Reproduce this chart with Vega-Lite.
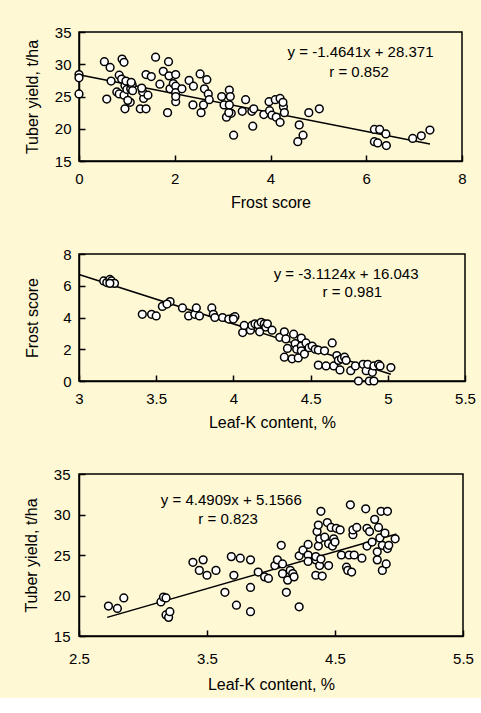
{
  "$schema": "https://vega.github.io/schema/vega-lite/v6.json",
  "background": "#FFF8D4",
  "padding": {"left": 22, "top": 24, "right": 10, "bottom": 5},
  "spacing": 35,
  "datasets": {
    "p1": [
      {"x":0,"y":28.4},{"x":0,"y":27.9},{"x":0,"y":25.4},{"x":0.53,"y":30.4},{"x":0.65,"y":29.5},{"x":0.67,"y":27.4},{"x":0.58,"y":24.6},{"x":0.79,"y":25.7},{"x":0.84,"y":28.3},{"x":0.9,"y":30.8},{"x":0.94,"y":30.3},{"x":0.89,"y":27.7},{"x":0.96,"y":26.7},{"x":0.98,"y":27.4},{"x":0.84,"y":25.4},{"x":0.94,"y":25.2},{"x":1.0,"y":26.1},{"x":1.08,"y":26.2},{"x":1.11,"y":26.8},{"x":1.09,"y":27.2},{"x":0.96,"y":23.1},{"x":1.07,"y":24.1},{"x":1.12,"y":25.9},{"x":1.02,"y":24.4},{"x":1.28,"y":23.1},{"x":1.4,"y":23.1},{"x":1.35,"y":24.7},{"x":1.33,"y":25.7},{"x":1.44,"y":25.2},{"x":1.4,"y":28.4},{"x":1.51,"y":28.1},{"x":1.31,"y":26.3},{"x":1.6,"y":31.1},{"x":1.69,"y":26.9},{"x":1.76,"y":28.9},{"x":1.87,"y":30.4},{"x":1.88,"y":28.2},{"x":1.85,"y":22.5},{"x":1.9,"y":26.2},{"x":1.97,"y":27.0},{"x":2.02,"y":28.4},{"x":2.02,"y":26.6},{"x":2.02,"y":25.6},{"x":2.02,"y":24.2},{"x":2.02,"y":25.0},{"x":2.15,"y":26.2},{"x":2.3,"y":27.5},{"x":2.39,"y":26.6},{"x":2.38,"y":23.7},{"x":2.53,"y":28.5},{"x":2.55,"y":22.5},{"x":2.6,"y":23.7},{"x":2.62,"y":26.2},{"x":2.67,"y":27.6},{"x":2.7,"y":25.4},{"x":2.72,"y":24.5},{"x":2.98,"y":25.0},{"x":3.03,"y":23.7},{"x":3.08,"y":21.8},{"x":3.14,"y":26.0},{"x":3.16,"y":25.0},{"x":3.18,"y":22.4},{"x":3.13,"y":22.5},{"x":3.23,"y":19.0},{"x":3.14,"y":23.7},{"x":3.48,"y":24.5},{"x":3.41,"y":22.7},{"x":3.61,"y":22.7},{"x":3.65,"y":23.1},{"x":3.63,"y":20.4},{"x":3.86,"y":22.2},{"x":3.97,"y":24.2},{"x":3.98,"y":22.8},{"x":4.03,"y":22.1},{"x":4.1,"y":24.5},{"x":4.2,"y":24.7},{"x":4.12,"y":21.8},{"x":4.2,"y":21.0},{"x":4.27,"y":23.4},{"x":4.29,"y":22.5},{"x":4.26,"y":24.1},{"x":4.6,"y":20.6},{"x":4.57,"y":18.0},{"x":4.68,"y":19.0},{"x":4.8,"y":22.5},{"x":5.02,"y":23.1},{"x":6.17,"y":19.9},{"x":6.28,"y":19.9},{"x":6.17,"y":18.0},{"x":6.24,"y":17.8},{"x":6.41,"y":19.2},{"x":6.42,"y":17.4},{"x":6.97,"y":18.5},{"x":7.15,"y":18.9},{"x":7.33,"y":19.8}
    ],
    "p2": [
      {"x":3.16,"y":6.3},{"x":3.18,"y":6.2},{"x":3.2,"y":6.4},{"x":3.21,"y":6.3},{"x":3.23,"y":6.15},{"x":3.2,"y":6.15},{"x":3.41,"y":4.2},{"x":3.47,"y":4.2},{"x":3.5,"y":4.1},{"x":3.54,"y":4.7},{"x":3.59,"y":5.0},{"x":3.57,"y":4.85},{"x":3.67,"y":4.6},{"x":3.71,"y":4.1},{"x":3.75,"y":4.2},{"x":3.76,"y":4.6},{"x":3.78,"y":4.1},{"x":3.86,"y":4.6},{"x":3.87,"y":4.2},{"x":3.88,"y":4.0},{"x":3.93,"y":4.0},{"x":3.97,"y":3.9},{"x":4.0,"y":4.0},{"x":4.01,"y":4.05},{"x":4.0,"y":3.9},{"x":4.06,"y":3.05},{"x":4.07,"y":3.5},{"x":4.11,"y":3.2},{"x":4.12,"y":3.5},{"x":4.14,"y":3.6},{"x":4.16,"y":3.55},{"x":4.17,"y":3.1},{"x":4.18,"y":3.7},{"x":4.2,"y":3.6},{"x":4.21,"y":3.4},{"x":4.22,"y":3.6},{"x":4.25,"y":3.2},{"x":4.3,"y":2.75},{"x":4.33,"y":3.1},{"x":4.34,"y":2.65},{"x":4.35,"y":2.05},{"x":4.33,"y":1.5},{"x":4.38,"y":1.4},{"x":4.42,"y":1.45},{"x":4.39,"y":2.95},{"x":4.4,"y":2.35},{"x":4.41,"y":2.0},{"x":4.44,"y":2.7},{"x":4.44,"y":2.2},{"x":4.44,"y":1.9},{"x":4.46,"y":1.7},{"x":4.47,"y":2.4},{"x":4.49,"y":2.1},{"x":4.51,"y":2.2},{"x":4.53,"y":2.0},{"x":4.55,"y":1.95},{"x":4.59,"y":1.9},{"x":4.55,"y":1.0},{"x":4.6,"y":0.95},{"x":4.64,"y":2.4},{"x":4.65,"y":0.95},{"x":4.67,"y":1.6},{"x":4.68,"y":1.3},{"x":4.7,"y":1.4},{"x":4.69,"y":0.7},{"x":4.72,"y":1.5},{"x":4.73,"y":1.3},{"x":4.76,"y":0.65},{"x":4.79,"y":0.95},{"x":4.81,"y":0.0},{"x":4.84,"y":1.05},{"x":4.86,"y":0.65},{"x":4.87,"y":1.05},{"x":4.88,"y":0.0},{"x":4.9,"y":0.55},{"x":4.91,"y":0.95},{"x":4.91,"y":0.0},{"x":4.94,"y":1.05},{"x":4.95,"y":0.95},{"x":5.02,"y":0.85}
    ],
    "p3": [
      {"x":2.73,"y":18.7},{"x":2.8,"y":18.4},{"x":2.85,"y":19.7},{"x":3.14,"y":19.2},{"x":3.16,"y":19.8},{"x":3.18,"y":19.7},{"x":3.18,"y":17.6},{"x":3.2,"y":17.3},{"x":3.21,"y":18.0},{"x":3.39,"y":24.1},{"x":3.44,"y":23.1},{"x":3.47,"y":24.4},{"x":3.5,"y":22.5},{"x":3.57,"y":23.1},{"x":3.64,"y":20.4},{"x":3.69,"y":24.8},{"x":3.71,"y":22.5},{"x":3.73,"y":18.8},{"x":3.76,"y":24.6},{"x":3.84,"y":24.4},{"x":3.84,"y":21.0},{"x":3.84,"y":18.0},{"x":3.9,"y":22.9},{"x":3.95,"y":22.3},{"x":3.98,"y":22.1},{"x":4.03,"y":23.7},{"x":4.05,"y":24.4},{"x":4.08,"y":26.2},{"x":4.09,"y":22.7},{"x":4.09,"y":23.9},{"x":4.12,"y":20.4},{"x":4.13,"y":21.9},{"x":4.15,"y":23.1},{"x":4.17,"y":22.7},{"x":4.18,"y":22.3},{"x":4.22,"y":18.6},{"x":4.22,"y":24.9},{"x":4.25,"y":25.6},{"x":4.29,"y":25.0},{"x":4.29,"y":24.2},{"x":4.29,"y":26.3},{"x":4.35,"y":24.4},{"x":4.35,"y":22.5},{"x":4.35,"y":24.8},{"x":4.36,"y":27.9},{"x":4.37,"y":28.7},{"x":4.37,"y":26.1},{"x":4.38,"y":27.0},{"x":4.38,"y":23.7},{"x":4.39,"y":24.5},{"x":4.39,"y":30.4},{"x":4.4,"y":22.4},{"x":4.42,"y":27.2},{"x":4.44,"y":29.0},{"x":4.45,"y":26.4},{"x":4.45,"y":23.7},{"x":4.47,"y":28.4},{"x":4.48,"y":26.1},{"x":4.49,"y":27.0},{"x":4.5,"y":26.6},{"x":4.51,"y":28.3},{"x":4.54,"y":28.1},{"x":4.55,"y":25.0},{"x":4.59,"y":23.5},{"x":4.6,"y":23.1},{"x":4.61,"y":25.0},{"x":4.62,"y":31.2},{"x":4.64,"y":27.5},{"x":4.65,"y":25.0},{"x":4.63,"y":22.9},{"x":4.64,"y":28.1},{"x":4.67,"y":28.4},{"x":4.71,"y":24.6},{"x":4.74,"y":30.7},{"x":4.75,"y":26.1},{"x":4.75,"y":28.3},{"x":4.77,"y":27.9},{"x":4.79,"y":26.6},{"x":4.81,"y":29.4},{"x":4.83,"y":25.4},{"x":4.83,"y":24.4},{"x":4.84,"y":28.4},{"x":4.85,"y":27.1},{"x":4.86,"y":30.4},{"x":4.87,"y":23.1},{"x":4.87,"y":26.2},{"x":4.89,"y":27.7},{"x":4.9,"y":23.9},{"x":4.91,"y":25.8},{"x":4.91,"y":30.4},{"x":4.92,"y":26.2},{"x":4.97,"y":27.0}
    ],
    "l1": [{"x":0,"y":28.37},{"x":7.33,"y":17.64}],
    "l2": [{"x":3.0,"y":6.71},{"x":5.02,"y":0.42}],
    "l3": [{"x":2.72,"y":17.3},{"x":4.98,"y":27.6}],
    "t1": [{"x":5.88,"y":31.9,"label":"y = -1.4641x + 28.371"},{"x":5.85,"y":28.8,"label":"r  = 0.852"}],
    "t2": [{"x":4.73,"y":6.74,"label":"y = -3.1124x + 16.043"},{"x":4.77,"y":5.61,"label":"r  = 0.981"}],
    "t3": [{"x":3.69,"y":31.8,"label":"y = 4.4909x + 5.1566"},{"x":3.665,"y":29.4,"label":"r = 0.823"}]
  },
  "vconcat": [
    {
      "width": 383, "height": 129,
      "encoding": {
        "x": {"field": "x", "type": "quantitative", "scale": {"domain": [0, 8], "nice": false},
              "axis": {"values": [0, 2, 4, 6, 8], "title": "Frost score", "labelPadding": 16, "titlePadding": 8, "labelOverlap": false, "labelFlush": false}},
        "y": {"field": "y", "type": "quantitative", "scale": {"domain": [15, 35], "nice": false, "zero": false},
              "axis": {"values": [15, 20, 25, 30, 35], "title": "Tuber yield, t/ha", "labelPadding": 14, "titlePadding": 14, "labelOverlap": false, "labelFlush": false}}
      },
      "layer": [
        {"data": {"name": "l1"}, "mark": {"type": "line", "color": "black", "strokeWidth": 1.5}},
        {"data": {"name": "p1"}, "mark": {"type": "point", "shape": "circle", "filled": true, "fill": "white", "stroke": "black", "strokeWidth": 1.5, "size": 60, "opacity": 1}},
        {"data": {"name": "t1"}, "mark": {"type": "text", "fontSize": 15, "align": "center", "baseline": "middle"},
         "encoding": {"text": {"field": "label"}}}
      ]
    },
    {
      "width": 386, "height": 127,
      "encoding": {
        "x": {"field": "x", "type": "quantitative", "scale": {"domain": [3, 5.5], "nice": false, "zero": false},
              "axis": {"values": [3, 3.5, 4, 4.5, 5, 5.5], "format": ".1~f", "title": "Leaf-K content, %", "labelPadding": 16, "titlePadding": 8, "labelOverlap": false, "labelFlush": false}},
        "y": {"field": "y", "type": "quantitative", "scale": {"domain": [0, 8], "nice": false},
              "axis": {"values": [0, 2, 4, 6, 8], "title": "Frost score", "labelPadding": 14, "titlePadding": 22, "labelOverlap": false, "labelFlush": false}}
      },
      "layer": [
        {"data": {"name": "l2"}, "mark": {"type": "line", "color": "black", "strokeWidth": 1.5}},
        {"data": {"name": "p2"}, "mark": {"type": "point", "shape": "circle", "filled": true, "fill": "white", "stroke": "black", "strokeWidth": 1.5, "size": 60, "opacity": 1}},
        {"data": {"name": "t2"}, "mark": {"type": "text", "fontSize": 15, "align": "center", "baseline": "middle"},
         "encoding": {"text": {"field": "label"}}}
      ]
    },
    {
      "width": 384, "height": 162,
      "encoding": {
        "x": {"field": "x", "type": "quantitative", "scale": {"domain": [2.5, 5.5], "nice": false, "zero": false},
              "axis": {"values": [2.5, 3.5, 4.5, 5.5], "format": ".1f", "title": "Leaf-K content, %", "labelPadding": 21, "titlePadding": 10, "labelOverlap": false, "labelFlush": false}},
        "y": {"field": "y", "type": "quantitative", "scale": {"domain": [15, 35], "nice": false, "zero": false},
              "axis": {"values": [15, 20, 25, 30, 35], "title": "Tuber yield, t/ha", "labelPadding": 15, "titlePadding": 14, "labelOverlap": false, "labelFlush": false}}
      },
      "layer": [
        {"data": {"name": "l3"}, "mark": {"type": "line", "color": "black", "strokeWidth": 1.5}},
        {"data": {"name": "p3"}, "mark": {"type": "point", "shape": "circle", "filled": true, "fill": "white", "stroke": "black", "strokeWidth": 1.5, "size": 60, "opacity": 1}},
        {"data": {"name": "t3"}, "mark": {"type": "text", "fontSize": 15, "align": "center", "baseline": "middle"},
         "encoding": {"text": {"field": "label"}}}
      ]
    }
  ],
  "config": {
    "font": "Liberation Sans",
    "view": {"stroke": "black", "strokeWidth": 1.5, "fill": "#FFF8D4"},
    "axis": {
      "grid": false,
      "domainColor": "black", "domainWidth": 1.5,
      "tickColor": "black", "tickWidth": 1.5, "tickSize": -6,
      "labelOverlap": false,
      "labelFont": "Liberation Sans", "labelFontSize": 15, "labelColor": "black",
      "titleFont": "Liberation Sans", "titleFontSize": 16, "titleFontWeight": "normal", "titleColor": "black"
    },
    "axisY": {"labelOverlap": false},
    "text": {"color": "black", "font": "Liberation Sans"}
  }
}
